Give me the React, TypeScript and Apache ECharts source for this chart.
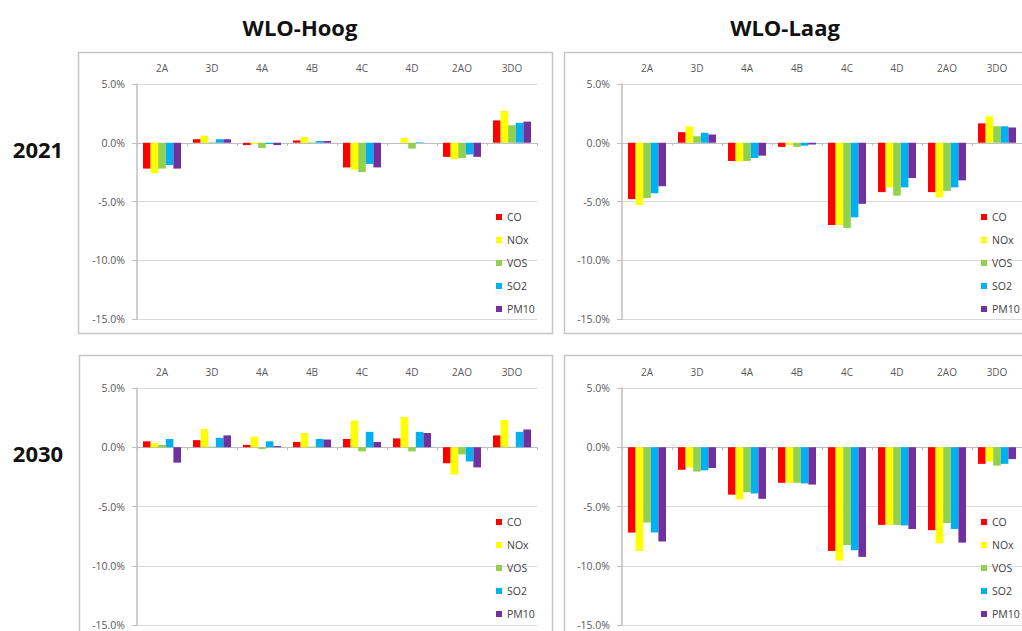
import React, { useEffect, useRef } from "react";
import * as echarts from "echarts";

const categories = ["2A", "3D", "4A", "4B", "4C", "4D", "2AO", "3DO"];
const pollutants = ["CO", "NOx", "VOS", "SO2", "PM10"];
const pollutantColors = ["#ff0000", "#ffff00", "#92d050", "#00b0f0", "#7030a0"];
const yTicks = { min: -15, max: 5, interval: 5 };
const columnTitles = ["WLO-Hoog", "WLO-Laag"];
const rowTitles = ["2021", "2030"];

// values in % ; rows: CO, NOx, VOS, SO2, PM10 ; columns follow categories
const hoog2021 = [
  [-2.2, 0.3, -0.2, 0.2, -2.1, 0.0, -1.2, 1.9],
  [-2.6, 0.6, -0.1, 0.5, -2.3, 0.4, -1.4, 2.7],
  [-2.2, 0.05, -0.45, 0.05, -2.5, -0.5, -1.3, 1.5],
  [-1.9, 0.3, -0.1, 0.15, -1.8, 0.05, -1.0, 1.7],
  [-2.2, 0.3, -0.2, 0.15, -2.1, 0.0, -1.2, 1.8],
];
const laag2021 = [
  [-4.8, 0.9, -1.55, -0.35, -7.0, -4.2, -4.2, 1.65],
  [-5.3, 1.4, -1.6, -0.2, -7.0, -3.8, -4.65, 2.25],
  [-4.7, 0.55, -1.55, -0.35, -7.25, -4.5, -4.1, 1.4],
  [-4.3, 0.85, -1.3, -0.25, -6.35, -3.8, -3.8, 1.4],
  [-3.7, 0.7, -1.1, -0.15, -5.2, -3.0, -3.2, 1.3],
];
const hoog2030 = [
  [0.5, 0.6, 0.2, 0.45, 0.7, 0.75, -1.35, 1.0],
  [0.35, 1.55, 0.9, 1.2, 2.25, 2.55, -2.3, 2.3],
  [0.2, 0.05, -0.15, 0.05, -0.35, -0.35, -0.6, 0.05],
  [0.7, 0.8, 0.5, 0.7, 1.3, 1.3, -1.2, 1.3],
  [-1.3, 1.0, 0.1, 0.65, 0.45, 1.2, -1.7, 1.5],
];
const laag2030 = [
  [-7.2, -1.9, -4.0, -3.0, -8.75, -6.55, -7.0, -1.4],
  [-8.75, -1.7, -4.4, -3.0, -9.55, -6.55, -8.1, -1.2],
  [-6.35, -2.05, -3.8, -3.0, -8.25, -6.55, -6.4, -1.55],
  [-7.2, -1.95, -3.9, -3.05, -8.7, -6.6, -6.9, -1.4],
  [-7.95, -1.75, -4.35, -3.15, -9.25, -6.9, -8.05, -1.0],
];

const panels = [hoog2021, laag2021, hoog2030, laag2030];

const gridBoxes = [
  { left: 137, top: 84, width: 400, height: 235 },
  { left: 622, top: 84, width: 400, height: 235 },
  { left: 137, top: 388, width: 400, height: 237 },
  { left: 622, top: 388, width: 400, height: 237 },
];
const legendPos = [
  { left: 496, top: 211 },
  { left: 981, top: 211 },
  { left: 496, top: 516 },
  { left: 981, top: 516 },
];
const panelFrames = [
  { x: 78.5, y: 52.5, width: 474, height: 281 },
  { x: 564.5, y: 52.5, width: 480, height: 281 },
  { x: 79.5, y: 355.5, width: 473, height: 300 },
  { x: 564.5, y: 355.5, width: 480, height: 300 },
];

const labelFont = "'Open Sans', sans-serif";

function buildOption() {
  const grid: any[] = [];
  const xAxis: any[] = [];
  const yAxis: any[] = [];
  const series: any[] = [];
  const legend: any[] = [];

  panels.forEach((panel, i) => {
    grid.push({ ...gridBoxes[i], containLabel: false });
    xAxis.push({
      type: "category",
      gridIndex: i,
      data: categories,
      position: "top",
      axisLine: { show: false, onZero: false },
      axisTick: { show: false },
      axisLabel: { color: "#595959", fontSize: 10, fontFamily: labelFont, margin: 11 },
      splitLine: { show: false },
    });
    xAxis.push({
      type: "category",
      gridIndex: i,
      data: categories,
      position: "bottom",
      axisLine: { show: true, onZero: true, lineStyle: { color: "#bfbfbf", width: 1 } },
      axisTick: { show: true, length: 3, lineStyle: { color: "#bfbfbf" } },
      axisLabel: { show: false },
      splitLine: { show: false },
    });
    yAxis.push({
      type: "value",
      gridIndex: i,
      min: yTicks.min,
      max: yTicks.max,
      interval: yTicks.interval,
      axisLine: { show: true, lineStyle: { color: "#bfbfbf", width: 1.5 } },
      axisTick: { show: true, length: 5, lineStyle: { color: "#bfbfbf" } },
      axisLabel: {
        color: "#595959",
        fontSize: 10.5,
        fontFamily: labelFont,
        margin: 12,
        formatter: (v: number) => v.toFixed(1) + "%",
      },
      splitLine: { show: true, lineStyle: { color: "#d9d9d9", width: 1 } },
    });
    pollutants.forEach((p, k) => {
      series.push({
        type: "bar",
        name: p,
        xAxisIndex: i * 2,
        yAxisIndex: i,
        data: panel[k],
        itemStyle: { color: pollutantColors[k] },
        barGap: "0%",
        barCategoryGap: "24%",
      });
    });
    legend.push({
      data: pollutants,
      orient: "vertical",
      ...legendPos[i],
      icon: "rect",
      itemWidth: 6,
      itemHeight: 6,
      itemGap: 11,
      selectedMode: false,
      padding: 0,
      textStyle: { color: "#404040", fontSize: 10.5, fontFamily: labelFont, lineHeight: 12 },
    });
  });

  const graphic: any[] = [];
  panelFrames.forEach((f) => {
    graphic.push({
      type: "rect",
      shape: f,
      style: { fill: "none", stroke: "#c6c6c6", lineWidth: 1.5 },
      silent: true,
      z: -1,
    });
  });
  const titleFont = "'Open Sans', sans-serif";
  graphic.push({
    type: "text",
    x: 300,
    y: 27,
    style: { text: columnTitles[0], font: `bold 22px ${titleFont}`, fill: "#111", align: "center", verticalAlign: "middle" },
  });
  graphic.push({
    type: "text",
    x: 785,
    y: 27,
    style: { text: columnTitles[1], font: `bold 22px ${titleFont}`, fill: "#111", align: "center", verticalAlign: "middle" },
  });
  graphic.push({
    type: "text",
    x: 38,
    y: 149,
    style: { text: rowTitles[0], font: `bold 22px ${titleFont}`, fill: "#111", align: "center", verticalAlign: "middle" },
  });
  graphic.push({
    type: "text",
    x: 38,
    y: 453,
    style: { text: rowTitles[1], font: `bold 22px ${titleFont}`, fill: "#111", align: "center", verticalAlign: "middle" },
  });

  return {
    animation: false,
    backgroundColor: "#ffffff",
    grid,
    xAxis,
    yAxis,
    series,
    legend,
    graphic,
  };
}

export default function App() {
  const ref = useRef<HTMLDivElement>(null);
  useEffect(() => {
    if (!ref.current) return;
    const chart = echarts.init(ref.current, undefined, { renderer: "svg" });
    chart.setOption(buildOption());
    return () => chart.dispose();
  }, []);
  return (
    <div
      ref={ref}
      style={{ position: "fixed", left: 0, top: 0, width: 1022, height: 631, background: "#fff" }}
    />
  );
}
